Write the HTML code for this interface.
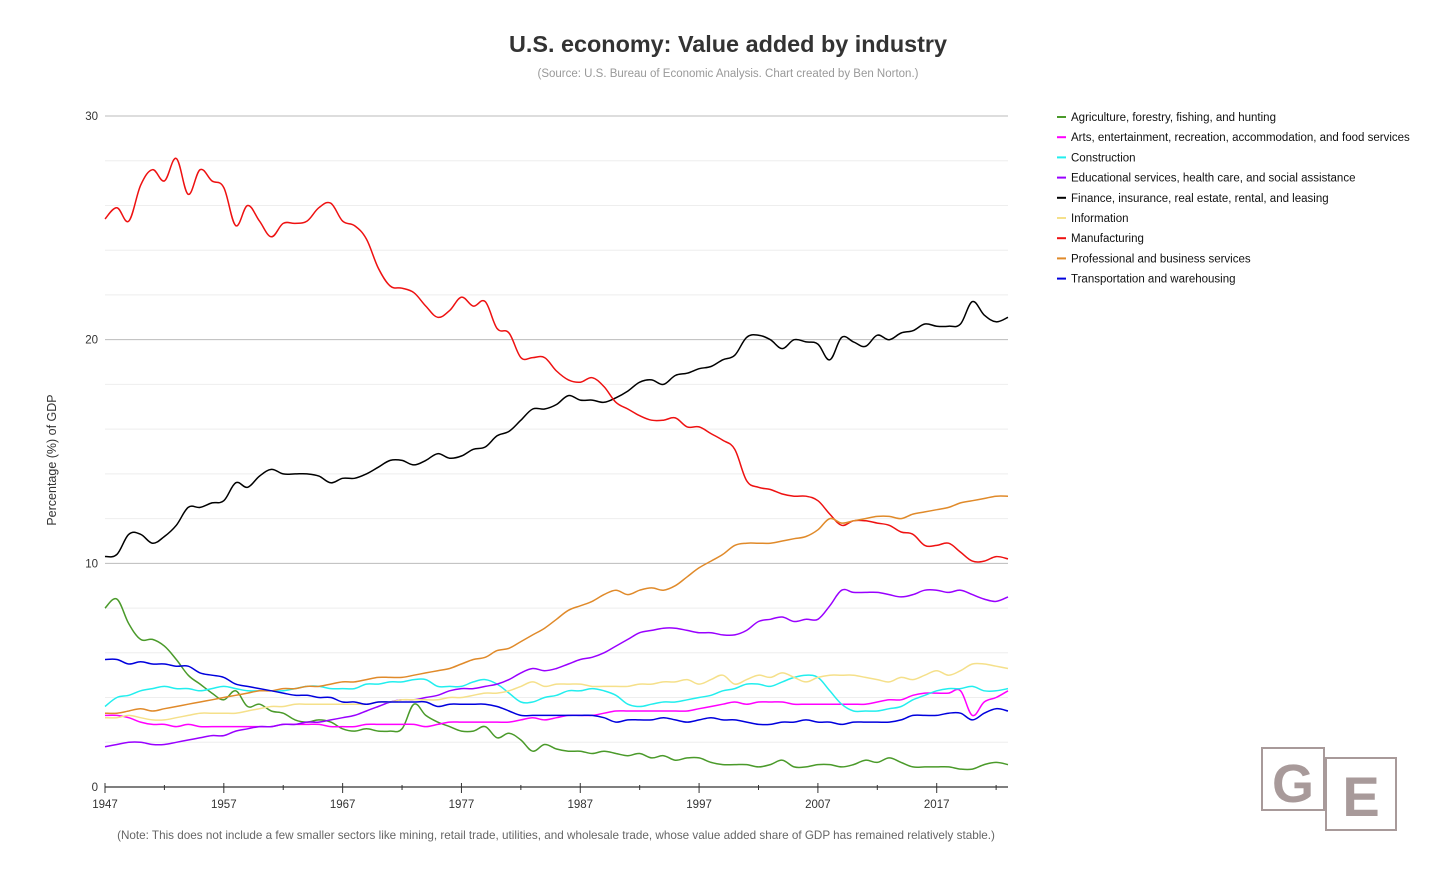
<!DOCTYPE html>
<html><head><meta charset="utf-8"><style>
body{margin:0;background:#fff;font-family:"Liberation Sans",Arial,sans-serif}
svg{display:block}
</style></head><body>
<svg id="chart" width="1456" height="874">
<text x="728" y="52" text-anchor="middle" font-size="23.4" font-weight="bold" fill="#333">U.S. economy: Value added by industry</text>
<text x="728" y="77" text-anchor="middle" font-size="11.5" fill="#999">(Source: U.S. Bureau of Economic Analysis. Chart created by Ben Norton.)</text>
<text transform="translate(56,460) rotate(-90)" text-anchor="middle" font-size="12.5" fill="#333">Percentage (%) of GDP</text>
<text x="556" y="839" text-anchor="middle" font-size="11.7" fill="#666">(Note: This does not include a few smaller sectors like mining, retail trade, utilities, and wholesale trade, whose value added share of GDP has remained relatively stable.)</text>
<g id="grid"></g><g id="axes"></g><g id="series"></g><g id="legend"></g>
<g>
<rect x="1262" y="748" width="62" height="62" fill="#fff" stroke="#a89a9a" stroke-width="2"/>
<rect x="1326" y="758" width="70" height="72" fill="#fff" stroke="#a89a9a" stroke-width="2"/>
<text x="1293" y="802" text-anchor="middle" font-size="54" font-weight="bold" fill="#a89a9a">G</text>
<text x="1361" y="816" text-anchor="middle" font-size="56" font-weight="bold" fill="#a89a9a">E</text>
</g>
</svg>
<script>
const years=[];for(let y=1947;y<=2023;y++)years.push(y);
const seriesNames=["Agriculture, forestry, fishing, and hunting","Arts, entertainment, recreation, accommodation, and food services","Construction","Educational services, health care, and social assistance","Finance, insurance, real estate, rental, and leasing","Information","Manufacturing","Professional and business services","Transportation and warehousing"];
const seriesColors=["#4a9a2a","#ff00ff","#22eeee","#9900ff","#000000","#f5e08a","#ee1111","#e08a2a","#0000dd"];
const agriculture=[8.0,8.4,7.3,6.6,6.6,6.3,5.7,5.0,4.6,4.2,3.9,4.3,3.6,3.7,3.4,3.3,3.0,2.9,3.0,2.9,2.6,2.5,2.6,2.5,2.5,2.6,3.7,3.2,2.9,2.7,2.5,2.5,2.7,2.2,2.4,2.1,1.6,1.9,1.7,1.6,1.6,1.5,1.6,1.5,1.4,1.5,1.3,1.4,1.2,1.3,1.3,1.1,1.0,1.0,1.0,0.9,1.0,1.2,0.9,0.9,1.0,1.0,0.9,1.0,1.2,1.1,1.3,1.1,0.9,0.9,0.9,0.9,0.8,0.8,1.0,1.1,1.0];
const arts=[3.2,3.2,3.1,2.9,2.8,2.8,2.7,2.8,2.7,2.7,2.7,2.7,2.7,2.7,2.7,2.8,2.8,2.8,2.8,2.7,2.7,2.7,2.8,2.8,2.8,2.8,2.8,2.7,2.8,2.9,2.9,2.9,2.9,2.9,2.9,3.0,3.1,3.0,3.1,3.2,3.2,3.2,3.3,3.4,3.4,3.4,3.4,3.4,3.4,3.4,3.5,3.6,3.7,3.8,3.7,3.8,3.8,3.8,3.7,3.7,3.7,3.7,3.7,3.7,3.7,3.8,3.9,3.9,4.1,4.2,4.2,4.2,4.3,3.2,3.8,4.0,4.3];
const construction=[3.6,4.0,4.1,4.3,4.4,4.5,4.4,4.4,4.3,4.4,4.5,4.4,4.3,4.3,4.3,4.3,4.4,4.5,4.5,4.4,4.4,4.4,4.6,4.6,4.7,4.7,4.8,4.8,4.5,4.5,4.5,4.7,4.8,4.6,4.2,3.8,3.8,4.0,4.1,4.3,4.3,4.4,4.3,4.1,3.7,3.6,3.7,3.8,3.8,3.9,4.0,4.1,4.3,4.4,4.6,4.6,4.5,4.7,4.9,5.0,4.9,4.3,3.7,3.4,3.4,3.4,3.5,3.6,3.9,4.1,4.3,4.4,4.4,4.5,4.3,4.3,4.4];
const education=[1.8,1.9,2.0,2.0,1.9,1.9,2.0,2.1,2.2,2.3,2.3,2.5,2.6,2.7,2.7,2.8,2.8,2.9,2.9,3.0,3.1,3.2,3.4,3.6,3.8,3.9,3.9,4.0,4.1,4.3,4.4,4.4,4.5,4.6,4.8,5.1,5.3,5.2,5.3,5.5,5.7,5.8,6.0,6.3,6.6,6.9,7.0,7.1,7.1,7.0,6.9,6.9,6.8,6.8,7.0,7.4,7.5,7.6,7.4,7.5,7.5,8.1,8.8,8.7,8.7,8.7,8.6,8.5,8.6,8.8,8.8,8.7,8.8,8.6,8.4,8.3,8.5];
const finance=[10.3,10.4,11.3,11.3,10.9,11.2,11.7,12.5,12.5,12.7,12.8,13.6,13.4,13.9,14.2,14.0,14.0,14.0,13.9,13.6,13.8,13.8,14.0,14.3,14.6,14.6,14.4,14.6,14.9,14.7,14.8,15.1,15.2,15.7,15.9,16.4,16.9,16.9,17.1,17.5,17.3,17.3,17.2,17.4,17.7,18.1,18.2,18.0,18.4,18.5,18.7,18.8,19.1,19.3,20.1,20.2,20.0,19.6,20.0,19.9,19.8,19.1,20.1,19.9,19.7,20.2,20.0,20.3,20.4,20.7,20.6,20.6,20.7,21.7,21.1,20.8,21.0];
const information=[3.1,3.1,3.2,3.1,3.0,3.0,3.1,3.2,3.3,3.3,3.3,3.3,3.4,3.5,3.6,3.6,3.7,3.7,3.7,3.7,3.7,3.7,3.7,3.8,3.8,3.9,3.9,3.9,3.9,4.0,4.0,4.1,4.2,4.2,4.3,4.5,4.7,4.5,4.6,4.6,4.6,4.5,4.5,4.5,4.5,4.6,4.6,4.7,4.7,4.8,4.6,4.8,5.0,4.6,4.8,5.0,4.9,5.1,4.9,4.7,4.9,5.0,5.0,5.0,4.9,4.8,4.7,4.9,4.8,5.0,5.2,5.0,5.2,5.5,5.5,5.4,5.3];
const manufacturing=[25.4,25.9,25.3,26.9,27.6,27.1,28.1,26.5,27.6,27.1,26.8,25.1,26.0,25.3,24.6,25.2,25.2,25.3,25.9,26.1,25.3,25.1,24.5,23.2,22.4,22.3,22.1,21.5,21.0,21.3,21.9,21.5,21.7,20.5,20.3,19.2,19.2,19.2,18.6,18.2,18.1,18.3,17.9,17.2,16.9,16.6,16.4,16.4,16.5,16.1,16.1,15.8,15.5,15.1,13.7,13.4,13.3,13.1,13.0,13.0,12.8,12.2,11.7,11.9,11.9,11.8,11.7,11.4,11.3,10.8,10.8,10.9,10.5,10.1,10.1,10.3,10.2];
const professional=[3.3,3.3,3.4,3.5,3.4,3.5,3.6,3.7,3.8,3.9,4.0,4.1,4.2,4.3,4.3,4.4,4.4,4.5,4.5,4.6,4.7,4.7,4.8,4.9,4.9,4.9,5.0,5.1,5.2,5.3,5.5,5.7,5.8,6.1,6.2,6.5,6.8,7.1,7.5,7.9,8.1,8.3,8.6,8.8,8.6,8.8,8.9,8.8,9.0,9.4,9.8,10.1,10.4,10.8,10.9,10.9,10.9,11.0,11.1,11.2,11.5,12.0,11.8,11.9,12.0,12.1,12.1,12.0,12.2,12.3,12.4,12.5,12.7,12.8,12.9,13.0,13.0];
const transportation=[5.7,5.7,5.5,5.6,5.5,5.5,5.4,5.4,5.1,5.0,4.9,4.6,4.5,4.4,4.3,4.2,4.1,4.1,4.0,4.0,3.8,3.8,3.7,3.8,3.8,3.8,3.8,3.8,3.6,3.7,3.7,3.7,3.7,3.6,3.4,3.2,3.2,3.2,3.2,3.2,3.2,3.2,3.1,2.9,3.0,3.0,3.0,3.1,3.0,2.9,3.0,3.1,3.0,3.0,2.9,2.8,2.8,2.9,2.9,3.0,2.9,2.9,2.8,2.9,2.9,2.9,2.9,3.0,3.2,3.2,3.2,3.3,3.3,3.0,3.3,3.5,3.4];
const yTicks=[0,10,20,30];
const xTicks=[1947,1957,1967,1977,1987,1997,2007,2017];
const allSeries=[agriculture,arts,construction,education,finance,information,manufacturing,professional,transportation];

const NS="http://www.w3.org/2000/svg";
const X0=105,X1=1008,Y0=787,Y30=116;
const xs=y=>X0+(y-1947)*(X1-X0)/(2023-1947);
const ys=v=>Y0-v*(Y0-Y30)/30;
function mk(tag,attrs,parent){const e=document.createElementNS(NS,tag);for(const k in attrs)e.setAttribute(k,attrs[k]);parent.appendChild(e);return e;}
const grid=document.getElementById('grid'),axes=document.getElementById('axes'),ser=document.getElementById('series'),leg=document.getElementById('legend');
for(let v=2;v<30;v+=2){if(v%10===0)continue;const l=mk('line',{x1:X0,x2:X1,y1:ys(v),y2:ys(v),stroke:'#eeeeee','stroke-width':1},grid);

}
yTicks.forEach(v=>{if(v>0){const l=mk('line',{x1:X0,x2:X1,y1:ys(v),y2:ys(v),stroke:'#bbbbbb','stroke-width':1},grid);

}
const t=mk('text',{x:98,y:ys(v)+4,'text-anchor':'end','font-size':11.5,fill:'#333'},axes);t.textContent=v;

});
const ax=mk('line',{x1:X0,x2:X1,y1:Y0,y2:Y0,stroke:'#333','stroke-width':1.2},axes);


for(let y=1947;y<=2023;y+=5){const major=(y-1947)%10===0;const tk=mk('line',{x1:xs(y),x2:xs(y),y1:Y0-(major?4:2),y2:Y0+(major?6:3),stroke:'#333','stroke-width':1},axes);

}
xTicks.forEach(y=>{const t=mk('text',{x:xs(y),y:808,'text-anchor':'middle','font-size':11.5,fill:'#333'},axes);t.textContent=y;

});
function pathD(vals){const p=vals.map((v,i)=>[xs(years[i]),ys(v)]);let d='M'+p[0][0].toFixed(1)+','+p[0][1].toFixed(1);
for(let i=0;i<p.length-1;i++){const a=p[i-1]||p[i],b=p[i],c=p[i+1],e=p[i+2]||c;const t=0.18;
const c1=[b[0]+(c[0]-a[0])*t,b[1]+(c[1]-a[1])*t],c2=[c[0]-(e[0]-b[0])*t,c[1]-(e[1]-b[1])*t];
d+=' C'+c1[0].toFixed(1)+','+c1[1].toFixed(1)+' '+c2[0].toFixed(1)+','+c2[1].toFixed(1)+' '+c[0].toFixed(1)+','+c[1].toFixed(1);}return d;}
allSeries.forEach((vals,i)=>{const p=mk('path',{d:pathD(vals),fill:'none',stroke:seriesColors[i],'stroke-width':1.5},ser);


const ly=117+i*20.2;const g=mk('g',{},leg);


mk('line',{x1:1057,x2:1066,y1:ly,y2:ly,stroke:seriesColors[i],'stroke-width':2},g);
const t=mk('text',{x:1071,y:ly+4,'font-size':11.5,fill:'#111'},g);t.textContent=seriesNames[i];});
</script>
</body></html>
